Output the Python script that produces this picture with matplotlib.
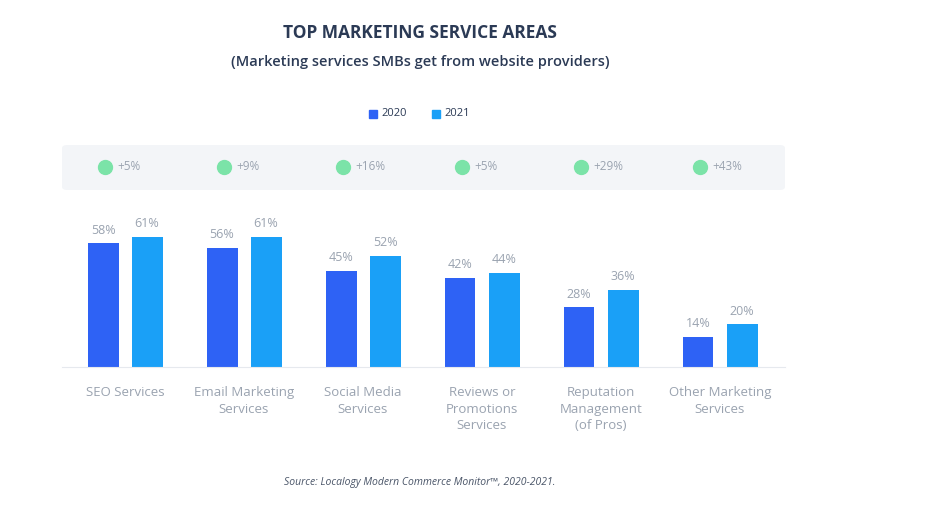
import matplotlib.pyplot as plt
from matplotlib.patches import FancyBboxPatch
from matplotlib.lines import Line2D
import numpy as np

categories = ["SEO Services", "Email Marketing\nServices", "Social Media\nServices",
              "Reviews or\nPromotions\nServices", "Reputation\nManagement\n(of Pros)",
              "Other Marketing\nServices"]
values_2020 = [58, 56, 45, 42, 28, 14]
values_2021 = [61, 61, 52, 44, 36, 20]
changes = ["+5%", "+9%", "+16%", "+5%", "+29%", "+43%"]

c2020 = "#2e62f5"
c2021 = "#1aa0f7"
dark = "#2b3a55"
grey = "#9aa3b0"

plt.rcParams['font.family'] = ['Open Sans', 'DejaVu Sans']

fig = plt.figure(figsize=(9.3, 5.12), dpi=100)
W, H = 930, 512

# plot area: x 62..785 px, baseline at y=367 px
ax = fig.add_axes([62 / W, (H - 367) / H, (785 - 62) / W, 167 / H])
x = np.arange(len(categories))
bw = 0.26
off = 0.185
b1 = ax.bar(x - off, values_2020, bw, color=c2020)
b2 = ax.bar(x + off, values_2021, bw, color=c2021)
ax.set_xlim(-0.53, 5.546)
ax.set_ylim(0, 78.4)
for bars in (b1, b2):
    for b in bars:
        ax.text(b.get_x() + b.get_width() / 2, b.get_height() + 3.2, f"{b.get_height():.0f}%",
                ha="center", va="bottom", fontsize=9, color=grey)
for s in ["top", "right", "left"]:
    ax.spines[s].set_visible(False)
ax.spines["bottom"].set_color("#e6e9ee")
ax.set_yticks([])
ax.set_xticks(x)
ax.set_xticklabels(categories, fontsize=9.5, color=grey, linespacing=1.35, va="top")
ax.tick_params(axis="x", length=0, pad=14)

# change band above the bars
band = FancyBboxPatch((62 / W, (H - 190) / H), (785 - 62) / W, 45 / H,
                      boxstyle="round,pad=0,rounding_size=0.006",
                      transform=fig.transFigure, facecolor="#f3f5f8", edgecolor="none")
fig.patches.append(band)
for i, ch in enumerate(changes):
    px = 125 + 119 * i
    fig.lines.append(Line2D([(px - 20) / W], [(H - 167) / H], marker="o", markersize=10,
                            color="#7be3a8", transform=fig.transFigure))
    fig.text((px - 8) / W, (H - 167) / H, ch, fontsize=8.5, color=grey, ha="left", va="center")

fig.text(420 / W, (H - 33) / H, "TOP MARKETING SERVICE AREAS", fontsize=12.5,
         fontweight="bold", color=dark, ha="center", va="center")
fig.text(420 / W, (H - 62) / H, "(Marketing services SMBs get from website providers)",
         fontsize=10.5, fontweight="semibold", color=dark, ha="center", va="center")

# legend
fig.patches.append(plt.Rectangle((369 / W, (H - 118) / H), 8 / W, 8 / H,
                                 transform=fig.transFigure, color=c2020))
fig.text(381 / W, (H - 114) / H, "2020", fontsize=8, color=dark, va="center")
fig.patches.append(plt.Rectangle((432 / W, (H - 118) / H), 8 / W, 8 / H,
                                 transform=fig.transFigure, color=c2021))
fig.text(444 / W, (H - 114) / H, "2021", fontsize=8, color=dark, va="center")

fig.text(420 / W, (H - 482) / H, "Source: Localogy Modern Commerce Monitor\u2122, 2020-2021.",
         fontsize=7.5, style="italic", color="#4a5568", ha="center", va="center")

fig.savefig("out.png", dpi=100, facecolor="white")
